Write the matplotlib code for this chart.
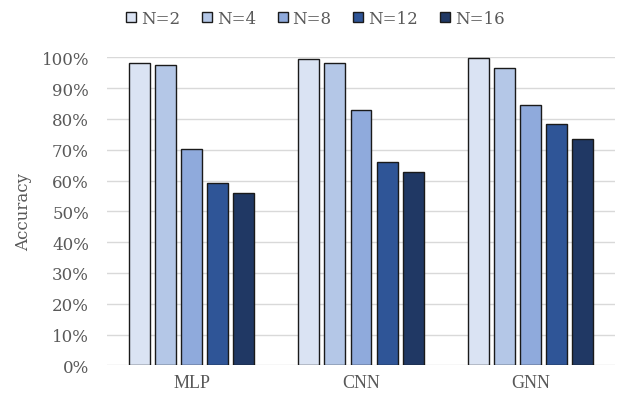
import numpy as np
import matplotlib.pyplot as plt
from matplotlib.ticker import PercentFormatter

models = ["MLP", "CNN", "GNN"]
labels = ["N=2", "N=4", "N=8", "N=12", "N=16"]
acc_n2 = [98.3, 99.5, 99.7]
acc_n4 = [97.6, 98.0, 96.4]
acc_n8 = [70.3, 82.8, 84.6]
acc_n12 = [59.1, 65.9, 78.3]
acc_n16 = [56.1, 62.6, 73.5]
series = [acc_n2, acc_n4, acc_n8, acc_n12, acc_n16]
colors = ["#DAE3F3", "#B4C7E7", "#8FAADC", "#2F5597", "#203864"]

plt.rcParams["font.family"] = ["DejaVu Serif"]
txt = "#595959"

fig = plt.figure(figsize=(6.18, 4.02), dpi=100)
ax = fig.add_axes([107 / 618, 1 - 366.3 / 402, 508 / 618, 308 / 402])

x = np.arange(len(models))
w = 0.124
step = 0.154
for k, (vals, c, lab) in enumerate(zip(series, colors, labels)):
    ax.bar(x + (k - 2) * step, vals, width=w, color=c, edgecolor="#1a1a1a",
           linewidth=1.0, label=lab, zorder=3)

ax.set_xlim(-0.5, 2.5)
ax.set_ylim(0, 100)
ax.set_yticks(np.arange(0, 101, 10))
ax.yaxis.set_major_formatter(PercentFormatter(decimals=0))
ax.set_xticks(x)
ax.set_xticklabels(models, family="Liberation Serif", fontsize=13)
ax.grid(axis="y", color="#D9D9D9", linewidth=1.0, zorder=0)
for s in ax.spines.values():
    s.set_visible(False)
ax.tick_params(length=0, labelsize=12, colors=txt)
ax.tick_params(axis="y", pad=13)
ax.tick_params(axis="x", pad=6, labelsize=13)
ax.set_ylabel("Accuracy", fontsize=12, color=txt, labelpad=7)

fig.legend(loc="upper center", bbox_to_anchor=(0.51, 1.01), ncol=5, frameon=False,
           fontsize=12, labelcolor=txt, handlelength=0.6, handleheight=0.6,
           handletextpad=0.3, columnspacing=1.3)

fig.savefig("out.png", dpi=100)
